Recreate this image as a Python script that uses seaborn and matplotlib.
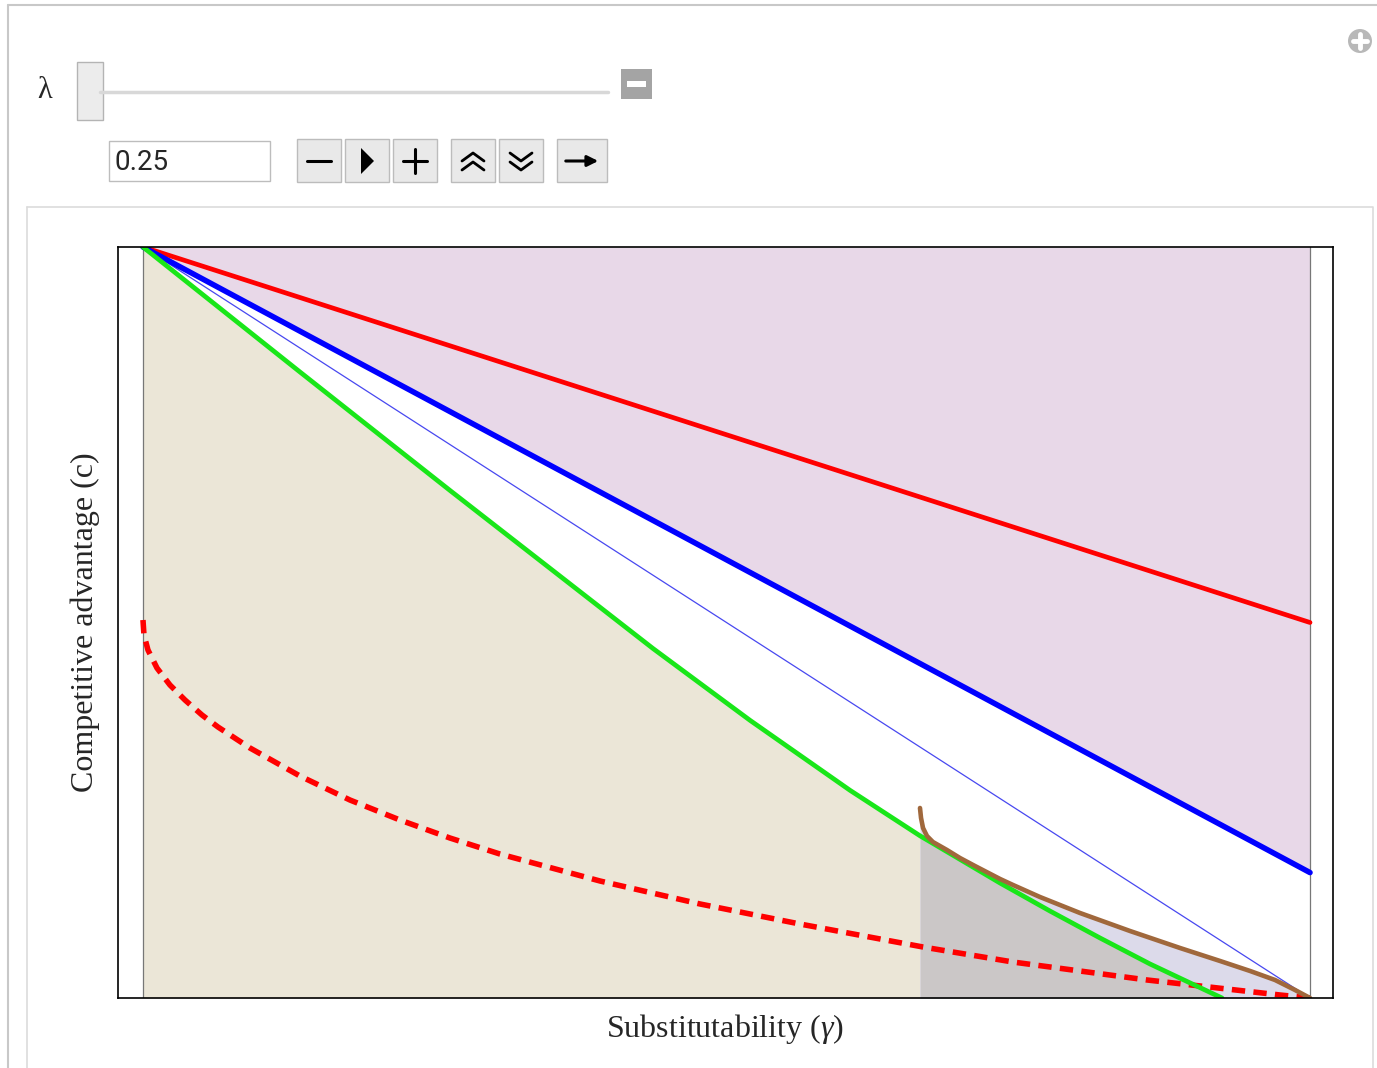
import matplotlib
matplotlib.use("Agg")
import matplotlib.pyplot as plt
from matplotlib.patches import Rectangle, Circle
import numpy as np
import pandas as pd
import seaborn as sns

# curves: substitutability (gamma) vs competitive advantage (c)
red_g = [0.0, 1.0]
red_c = [1.0, 0.5]
blue_g = [0.0, 1.0]
blue_c = [1.0, 0.167]
thin_g = [0.0, 1.0]
thin_c = [1.0, 0.0]
green_g = [0.0, 0.1345, 0.2631, 0.437, 0.5201, 0.6058, 0.6658, 0.7344, 0.7772, 0.8201, 0.8629, 0.9246]
green_c = [1.0, 0.8336, 0.6758, 0.4654, 0.3698, 0.2766, 0.216, 0.1531, 0.1158, 0.0799, 0.0453, 0.0]
brown_g = [0.6658, 0.6667, 0.6684, 0.6718, 0.6769, 0.6889, 0.7001, 0.7129, 0.7344, 0.7455,
           0.7686, 0.8029, 0.8458, 0.8886, 0.9229, 0.9486, 0.97, 0.9871, 1.0]
brown_c = [0.253, 0.2397, 0.2264, 0.2157, 0.2077, 0.1971, 0.1864, 0.1758, 0.1585, 0.1505,
           0.1345, 0.1132, 0.0892, 0.0666, 0.0493, 0.036, 0.024, 0.0107, 0.0]
dash_g = [0.0, 0.00086, 0.00428, 0.012, 0.0231, 0.036, 0.0506, 0.0643, 0.0917, 0.1345, 0.1774,
          0.2202, 0.2631, 0.3059, 0.3916, 0.4773, 0.563, 0.6315, 0.6684, 0.7455, 0.8603, 0.9743, 1.0]
dash_c = [0.5033, 0.4834, 0.4634, 0.4394, 0.4168, 0.3968, 0.3768, 0.3608, 0.3329, 0.2956, 0.2636,
          0.237, 0.213, 0.1917, 0.1558, 0.1252, 0.0985, 0.0786, 0.0679, 0.0479, 0.024, 0.004, 0.0]
split_g = 0.6658  # beige turns gray here
lam = "0.25"

sns.set_style("white")
plt.rcParams["font.family"] = ["Liberation Serif", "DejaVu Serif"]
plt.rcParams["mathtext.fontset"] = "custom"
plt.rcParams["mathtext.rm"] = "Liberation Serif"
plt.rcParams["mathtext.it"] = "Liberation Serif:italic"

fig = plt.figure(figsize=(13.77, 10.68), dpi=100)

# manipulate panel chrome, in pixel coordinates
ui = fig.add_axes([0, 0, 1, 1], zorder=-1)
ui.set_xlim(0, 1377)
ui.set_ylim(1068, 0)
ui.axis("off")
ui.plot([8, 1377], [5, 5], color="#c8c8c8", lw=1.5)
ui.plot([8, 8], [5, 1068], color="#c8c8c8", lw=1.5)
ui.plot([27, 1373, 1373], [207, 207, 1068], color="#dcdcdc", lw=1.2)
ui.plot([27, 27], [207, 1068], color="#dcdcdc", lw=1.2)
ui.text(45, 90, "λ", fontsize=22, ha="center", va="center")
ui.plot([100, 608], [92, 92], color="#d8d8d8", lw=2.5, solid_capstyle="round")
ui.add_patch(Rectangle((77, 62), 26, 58, fc="#ececec", ec="#b4b4b4", lw=1))
ui.add_patch(Rectangle((621, 69), 31, 30, fc="#a4a4a4", ec="none"))
ui.add_patch(Rectangle((627, 81), 19, 6, fc="white", ec="none"))
ui.add_patch(Circle((1360, 41), 12, fc="#b8b8b8", ec="none"))
ui.plot([1353, 1367], [41, 41], color="white", lw=3.5)
ui.plot([1360, 1360], [34, 48], color="white", lw=3.5)
ui.add_patch(Rectangle((109, 141), 161, 40, fc="white", ec="#bdbdbd", lw=1))
ui.text(115, 163, lam, fontsize=20, family="Roboto", ha="left", va="center")
for x0, w in [(297, 44), (345, 44), (393, 44), (451, 44), (499, 44), (557, 50)]:
    ui.add_patch(Rectangle((x0, 139), w, 43, fc="#e9e9e9", ec="#bcbcbc", lw=1))
ui.plot([307, 331], [161, 161], color="black", lw=2.2)
ui.add_patch(plt.Polygon([[361, 148], [361, 174], [374, 161]], fc="black", ec="none"))
ui.plot([403, 427], [161, 161], color="black", lw=2.2)
ui.plot([415, 415], [149, 173], color="black", lw=2.2)
for yy in (153, 162):
    ui.plot([462, 473, 484], [yy + 8, yy, yy + 8], color="black", lw=2)
    ui.plot([510, 521, 532], [yy, yy + 8, yy], color="black", lw=2)
ui.annotate("", xy=(601, 161), xytext=(563, 161),
            arrowprops=dict(arrowstyle="-|>", color="black", lw=2.2, mutation_scale=16))

# plot area
ax = fig.add_axes([118 / 1377, 1 - 998 / 1068, (1333 - 118) / 1377, (998 - 247) / 1068])
ax.set_xlim(-0.0214, 1.0197)
ax.set_ylim(0, 1)

g_green = np.array(green_g)
ax.fill_between(blue_g, blue_c, 1, color="#e8d8e8", lw=0, zorder=0)
ax.fill_between(green_g, 0, green_c, where=g_green <= split_g, color="#ebe6d7", lw=0, zorder=0)
ax.fill_between(brown_g, 0, brown_c, color="#dcdaea", lw=0, zorder=0)
ax.fill_between(green_g, 0, green_c, where=g_green >= split_g, color="#cbc7c7", lw=0, zorder=0)
ax.axvline(0, color="#777777", lw=0.9, zorder=1)
ax.axvline(1, color="#777777", lw=0.9, zorder=1)

def curve(g, c, **kw):
    df = pd.DataFrame({"g": g, "c": c})
    sns.lineplot(data=df, x="g", y="c", ax=ax, sort=False, estimator=None, **kw)

curve(thin_g, thin_c, color="#4848f0", lw=0.9)
curve(dash_g, dash_c, color="#ff0000", lw=4.0, dashes=[(2.4, 1.5)], style=[0] * len(dash_g), legend=False)
curve(red_g, red_c, color="#ff0000", lw=3.4)
curve(blue_g, blue_c, color="#0000ff", lw=4.0)
curve(green_g, green_c, color="#19e619", lw=3.4)
curve(brown_g, brown_c, color="#a0683c", lw=3.3)

ax.set_xticks([])
ax.set_yticks([])
ax.set_xlabel("Substitutability ($\\gamma$)", fontsize=23, labelpad=10)
ax.set_ylabel("Competitive advantage (c)", fontsize=23, labelpad=13)
for s in ax.spines.values():
    s.set_visible(True)
    s.set_color("black")
    s.set_linewidth(1.2)

fig.savefig("out.png", dpi=100)
